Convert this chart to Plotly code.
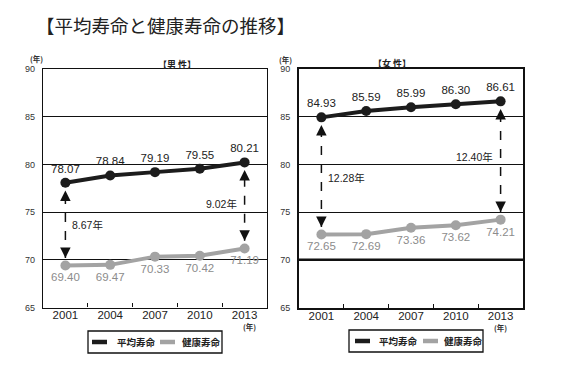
import plotly.graph_objects as go

# ---------------- data ----------------
years = ["2001", "2004", "2007", "2010", "2013"]
male_avg = [78.07, 78.84, 79.19, 79.55, 80.21]
male_healthy = [69.40, 69.47, 70.33, 70.42, 71.19]
female_avg = [84.93, 85.59, 85.99, 86.30, 86.61]
female_healthy = [72.65, 72.69, 73.36, 73.62, 74.21]
y_ticks = [65, 70, 75, 80, 85, 90]
series_names = ["平均寿命", "健康寿命"]
title_text = "【平均寿命と健康寿命の推移】"
panel_titles = ["【男 性】", "【女 性】"]
unit_text = "(年)"

# page body has an 8px margin -> figure sits at (8, 8) inside the 566x367 window
OFF = 8
W, H = 566 - 2 * OFF, 367 - 2 * OFF
BLACK = "#1c1c1c"
GRAY = "#a3a3a3"
GRAY_TXT = "#8c8c8c"
NUM_FONT = "Liberation Sans, Arial, Noto Sans CJK JP"
JP_FONT = "Noto Sans CJK JP, Noto Sans CJK SC"


def px(x):
    return (x - OFF) / W


def py(y):
    return 1 - (y - OFF) / H


fig = go.Figure()

panels = [
    dict(avg=male_avg, hl=male_healthy, xa="x", ya="y"),
    dict(avg=female_avg, hl=female_healthy, xa="x2", ya="y2"),
]

for p in panels:
    fig.add_trace(go.Scatter(
        x=years, y=p["hl"], mode="lines+markers+text", xaxis=p["xa"], yaxis=p["ya"],
        line=dict(color=GRAY, width=4), marker=dict(color=GRAY, size=10),
        text=[f"{v:.2f}" for v in p["hl"]], textposition="bottom center",
        textfont=dict(family=NUM_FONT, size=11.5, color=GRAY_TXT),
        showlegend=False, name=series_names[1], cliponaxis=False))
    fig.add_trace(go.Scatter(
        x=years, y=p["avg"], mode="lines+markers+text", xaxis=p["xa"], yaxis=p["ya"],
        line=dict(color=BLACK, width=4), marker=dict(color=BLACK, size=10),
        text=[f"{v:.2f}" for v in p["avg"]], textposition="top center",
        textfont=dict(family=NUM_FONT, size=11.5, color="#222222"),
        showlegend=False, name=series_names[0], cliponaxis=False))

y_top, y_bot = 69, 307.5
common_x = dict(type="category", categoryorder="array", categoryarray=years,
                range=[-0.5, 4.5], showgrid=False, zeroline=False,
                showline=True, mirror=True, linecolor="#111111",
                ticks="inside", tickson="boundaries", ticklen=4, tickcolor="#111111",
                automargin=False, ticklabelstandoff=-3,
                tickfont=dict(family=NUM_FONT, size=11.5, color="#222222"))
common_y = dict(range=[65, 90], tickvals=y_ticks, showgrid=True, gridcolor="#111111",
                gridwidth=1, zeroline=False, showline=True, mirror=True,
                linecolor="#111111", ticks="", ticklabelstandoff=5, automargin=False,
                tickfont=dict(family=NUM_FONT, size=9, color="#333333"))

fig.update_layout(
    width=W, height=H, margin=dict(l=0, r=0, t=0, b=0),
    paper_bgcolor="white", plot_bgcolor="white",
    xaxis=dict(common_x, domain=[px(43), px(267)], anchor="y", linewidth=1.3),
    yaxis=dict(common_y, domain=[py(y_bot), py(y_top)], anchor="x", linewidth=1.3),
    xaxis2=dict(common_x, domain=[px(299), px(523)], anchor="y2", linewidth=2),
    yaxis2=dict(common_y, domain=[py(y_bot), py(y_top)], anchor="x2", linewidth=2),
)

shapes = []
annotations = []

# thick 70 line on the right panel
shapes.append(dict(type="line", xref="x2 domain", yref="y2", x0=0, x1=1, y0=70, y1=70,
                   line=dict(color="#111111", width=2.5)))

# gap arrows
GAP = 0.8
arrow_specs = [
    (0, 0, "right", 73.6),
    (0, 4, "left", 75.9),
    (1, 0, "right", 78.6),
    (1, 4, "left", 80.8),
]
for pi, idx, side, label_y in arrow_specs:
    p = panels[pi]
    hi = p["avg"][idx]
    lo = p["hl"][idx]
    xr, yr = p["xa"], p["ya"]
    shapes.append(dict(type="line", xref=xr, yref=yr, x0=idx, x1=idx,
                       y0=lo + GAP, y1=hi - GAP,
                       line=dict(color="#111111", width=1.5, dash="dash")))
    annotations.append(dict(xref=xr, yref=yr, x=idx, y=hi - GAP, ax=0, ay=7, text="",
                            showarrow=True, arrowhead=2, arrowsize=1.4, arrowwidth=1.5,
                            arrowcolor="#111111"))
    annotations.append(dict(xref=xr, yref=yr, x=idx, y=lo + GAP, ax=0, ay=-7, text="",
                            showarrow=True, arrowhead=2, arrowsize=1.4, arrowwidth=1.5,
                            arrowcolor="#111111"))
    annotations.append(dict(xref=xr, yref=yr, x=idx, y=label_y,
                            text=f"{hi - lo:.2f}年", showarrow=False,
                            xanchor="left" if side == "right" else "right",
                            xshift=5 if side == "right" else -6,
                            font=dict(family=NUM_FONT, size=10.5, color="#222222")))

# title
annotations.append(dict(xref="paper", yref="paper", x=px(34), y=py(25), text=title_text,
                        showarrow=False, xanchor="left", yanchor="middle",
                        font=dict(family=JP_FONT, size=18.5, color="#222222")))

# panel titles and units
for t, ux, uy, tx, ty in [(panel_titles[0], 29, 52, 156, 56),
                          (panel_titles[1], 285, 53, 413, 55)]:
    annotations.append(dict(xref="paper", yref="paper", x=px(tx), y=py(ty), text=f"<b>{t}</b>",
                            showarrow=False, font=dict(family=JP_FONT, size=9, color="#222222")))
    annotations.append(dict(xref="paper", yref="paper", x=px(ux), y=py(uy), text=f"<b>{unit_text}</b>",
                            showarrow=False, borderpad=0,
                            font=dict(family=JP_FONT, size=7.5, color="#333333")))

# x-axis unit under 2013
for ux, uy in ((249, 333), (508, 334)):
    annotations.append(dict(xref="paper", yref="paper", x=px(ux), y=py(uy), text=f"<b>{unit_text}</b>",
                            showarrow=False, borderpad=0,
                            font=dict(family=JP_FONT, size=7.5, color="#333333")))

# legends (box + sample line + label)
for bx0, bx1, by0, by1, s1, t1, s2, t2 in [
        (88, 222, 331, 353, 92, 115, 160, 180),
        (349, 483, 330, 352, 355, 377, 423, 442)]:
    shapes.append(dict(type="rect", xref="paper", yref="paper", x0=px(bx0), x1=px(bx1),
                       y0=py(by1), y1=py(by0), line=dict(color="#111111", width=1.3)))
    cy = (by0 + by1) / 2
    for sx, tx, col, name in [(s1, t1, BLACK, series_names[0]), (s2, t2, GRAY, series_names[1])]:
        shapes.append(dict(type="line", xref="paper", yref="paper", x0=px(sx), x1=px(sx + 15),
                           y0=py(cy), y1=py(cy), line=dict(color=col, width=4.5)))
        annotations.append(dict(xref="paper", yref="paper", x=px(tx), y=py(cy), text=f"<b>{name}</b>",
                                showarrow=False, xanchor="left", yanchor="middle",
                                font=dict(family=JP_FONT, size=9.5, color="#222222")))

fig.update_layout(shapes=shapes, annotations=annotations)
fig.write_html("out.html")
